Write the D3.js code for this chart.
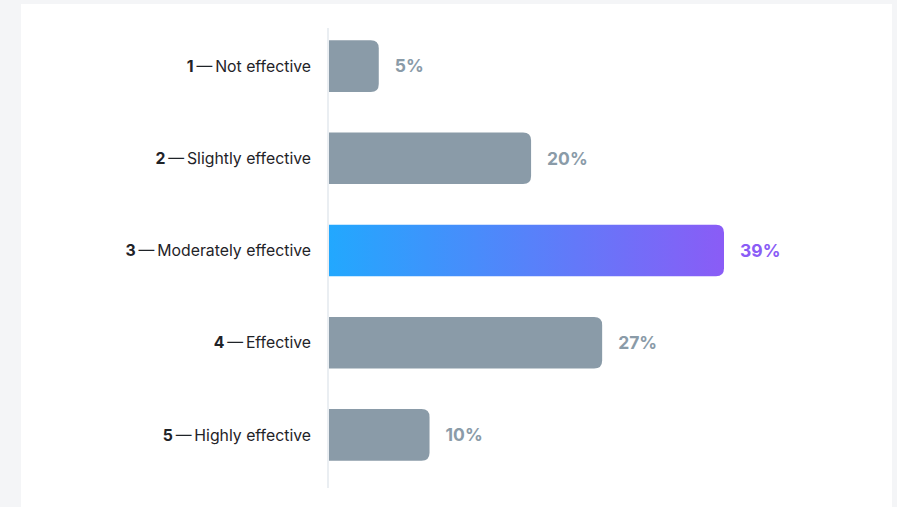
<!DOCTYPE html>
<html><head><meta charset="utf-8">
<script src="https://cdn.jsdelivr.net/npm/d3@7"></script>
<style>
html,body{margin:0;padding:0;background:#f4f5f7;}
#card{position:absolute;left:21px;top:4px;width:871px;height:520px;background:#fff;}
svg{position:absolute;left:0;top:0;}
</style></head>
<body><div id="card"></div><svg id="chart" width="897" height="507"></svg>
<script>
const nums = ["1","2","3","4","5"];
const labels = ["Not effective","Slightly effective","Moderately effective","Effective","Highly effective"];
const values = [5,20,39,27,10];
const highlight = 2;

const svg = d3.select("#chart");
const font = "Inter, 'Noto Sans', sans-serif";
const x = d3.scaleLinear().domain([0,39]).range([328,724]);
const y = d3.scaleBand().domain(nums).range([20,481]).paddingInner(0.44).paddingOuter(0.22);

const defs = svg.append("defs");
const g = defs.append("linearGradient").attr("id","grad").attr("x1","0%").attr("x2","100%");
g.append("stop").attr("offset","0%").attr("stop-color","#22a8fe");
g.append("stop").attr("offset","100%").attr("stop-color","#8a5cf6");

svg.append("line").attr("x1",328).attr("x2",328).attr("y1",28).attr("y2",488)
  .attr("stroke","#e3e8ee").attr("stroke-width",1.5);

const r = 8;
function barPath(x0,x1,y0,h){
  return `M${x0},${y0}H${x1-r}Q${x1},${y0} ${x1},${y0+r}V${y0+h-r}Q${x1},${y0+h} ${x1-r},${y0+h}H${x0}Z`;
}
nums.forEach((n,i)=>{
  const y0 = y(n), h = y.bandwidth();
  svg.append("path").attr("d", barPath(x(0)+1, x(values[i]), y0, h))
    .attr("fill", i===highlight ? "url(#grad)" : "#8a9ba8");
  svg.append("text").attr("x", x(values[i])+16).attr("y", y0+h/2).attr("dy","0.36em")
    .attr("font-family",font).attr("font-weight",700).attr("font-size",17.5)
    .attr("fill", i===highlight ? "#8a5cf6" : "#8a9ba8").text(values[i]+"%");
  const t = svg.append("text").attr("x",311).attr("y",y0+h/2).attr("dy","0.36em")
    .attr("text-anchor","end").attr("font-family",font).attr("font-size",15.8).attr("fill","#1f2328");
  t.append("tspan").attr("font-weight",700).text(n);
  t.append("tspan").text("\u2009—\u2009");
  t.append("tspan").text(labels[i]);
});
</script></body></html>
